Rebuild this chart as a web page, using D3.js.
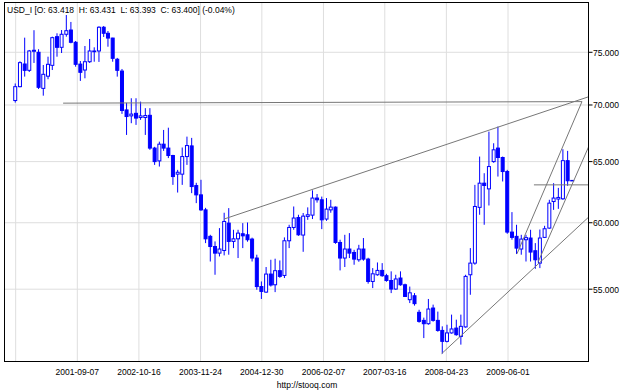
<!DOCTYPE html>
<html>
<head>
<meta charset="utf-8">
<script src="https://cdn.jsdelivr.net/npm/d3@7"></script>
<style>
body { margin: 0; background: #fff; }
text { font-family: "Liberation Sans", Arial, sans-serif; font-size: 8.5px; fill: #000; }
</style>
</head>
<body>
<div id="chart"></div>
<script>
// monthly candles, Jul 2000 .. Jul 2010
var openVals = [70.41, 71.70, 73.86, 73.25, 75.10, 75.00, 71.54, 72.69, 73.73, 76.55,
    75.49, 76.79, 77.22, 75.99, 73.85, 73.28, 74.08, 75.06, 75.13, 77.50,
    76.89, 76.41, 74.32, 73.18, 69.55, 69.01, 69.24, 68.86, 68.86, 69.06,
    66.16, 65.06, 66.50, 66.16, 65.52, 63.94, 63.94, 65.43, 66.35, 62.99,
    62.23, 61.02, 58.94, 58.16, 57.66, 57.86, 59.97, 58.55, 58.75, 59.14,
    59.06, 58.73, 57.29, 55.19, 54.79, 56.10, 55.32, 56.35, 56.00, 58.60,
    59.63, 60.41, 59.04, 60.50, 60.60, 61.97, 61.83, 60.29, 61.02, 61.24,
    58.47, 57.29, 57.97, 57.71, 57.16, 57.97, 57.21, 55.56, 56.05, 56.37,
    55.98, 55.63, 55.01, 55.81, 55.32, 54.25, 54.53, 53.36, 52.80, 52.57,
    53.66, 52.80, 52.11, 51.37, 51.94, 52.27, 51.70, 52.35, 56.05, 56.91,
    61.22, 63.19, 62.72, 65.00, 66.16, 65.35, 64.16, 59.27, 58.94, 57.97,
    58.68, 58.81, 57.84, 56.91, 58.86, 59.58, 61.69, 61.89, 61.91, 65.08,
    63.418];
var highVals = [72.00, 74.12, 76.45, 75.23, 77.20, 75.30, 73.76, 74.57, 76.55, 76.89,
    77.22, 78.75, 78.04, 76.12, 74.15, 75.62, 76.32, 75.49, 77.60, 77.63,
    77.12, 76.44, 74.45, 73.38, 70.20, 70.62, 70.62, 70.31, 69.71, 69.71,
    66.27, 66.72, 67.75, 67.95, 65.58, 64.30, 66.21, 67.16, 67.05, 63.22,
    63.47, 61.18, 59.06, 58.55, 59.58, 60.79, 61.16, 59.45, 59.45, 59.97,
    60.02, 58.84, 57.54, 55.56, 56.62, 57.16, 57.24, 57.11, 58.86, 59.84,
    61.29, 60.63, 60.77, 61.22, 62.60, 62.30, 62.09, 61.97, 61.83, 61.29,
    58.68, 59.06, 59.19, 57.91, 58.29, 58.81, 57.31, 56.54, 56.96, 56.91,
    56.12, 56.30, 56.05, 56.30, 55.40, 55.19, 54.72, 53.54, 52.99, 54.30,
    53.90, 53.41, 52.39, 52.50, 53.20, 52.85, 53.20, 56.05, 58.04, 63.05,
    65.43, 64.02, 67.60, 66.58, 68.05, 65.43, 64.30, 60.84, 59.84, 59.06,
    59.06, 59.45, 58.42, 59.47, 59.76, 61.83, 63.19, 62.80, 66.06, 65.92,
    63.431];
var lowVals = [70.22, 71.64, 72.65, 73.09, 73.96, 71.48, 70.86, 72.40, 73.28, 74.57,
    74.93, 76.55, 75.89, 73.60, 72.24, 72.49, 73.96, 74.08, 74.06, 76.52,
    75.55, 74.08, 72.65, 69.19, 67.31, 68.35, 68.20, 68.65, 67.31, 66.01,
    64.72, 64.58, 65.92, 65.30, 63.05, 62.42, 63.05, 64.72, 62.37, 61.56,
    60.94, 58.42, 57.03, 56.05, 57.41, 57.49, 57.54, 58.04, 57.29, 58.04,
    58.53, 57.03, 54.96, 54.30, 54.74, 55.19, 54.79, 55.83, 55.81, 58.04,
    59.45, 58.98, 57.76, 60.23, 60.29, 61.60, 59.50, 60.15, 60.79, 58.37,
    56.37, 56.62, 57.29, 56.79, 57.01, 57.09, 55.40, 55.08, 55.98, 55.90,
    55.54, 54.72, 54.96, 55.25, 54.44, 54.01, 53.83, 52.64, 51.59, 52.50,
    52.71, 52.02, 50.55, 51.30, 51.89, 51.75, 51.15, 52.30, 54.60, 56.79,
    60.63, 59.84, 61.37, 64.90, 63.74, 63.33, 59.14, 58.68, 57.59, 57.54,
    57.03, 57.03, 56.49, 56.54, 58.81, 59.53, 61.02, 61.10, 61.83, 62.97,
    63.393];
var closeVals = [71.70, 73.99, 73.25, 75.13, 75.20, 71.64, 72.87, 73.83, 76.45, 75.49,
    76.79, 77.15, 75.99, 73.83, 73.06, 74.08, 75.13, 75.13, 77.50, 76.89,
    76.41, 74.41, 73.25, 69.50, 68.95, 69.17, 68.81, 69.01, 69.04, 66.16,
    65.00, 66.50, 66.16, 65.52, 63.74, 64.10, 65.43, 66.38, 62.91, 62.23,
    61.02, 58.75, 58.16, 57.66, 57.97, 60.10, 58.55, 58.75, 59.19, 58.98,
    58.68, 57.29, 55.19, 54.84, 56.10, 55.30, 56.35, 55.93, 58.60, 59.63,
    60.37, 59.06, 60.52, 60.63, 61.97, 61.83, 60.23, 61.08, 61.24, 58.47,
    57.29, 57.97, 57.66, 57.21, 57.97, 57.21, 55.56, 56.12, 56.37, 55.98,
    55.63, 55.01, 55.74, 55.32, 54.48, 54.74, 53.97, 52.73, 52.57, 53.59,
    52.80, 52.11, 51.37, 51.94, 52.21, 51.82, 52.39, 55.93, 56.91, 61.29,
    63.19, 63.00, 64.58, 66.01, 65.35, 64.16, 59.27, 58.86, 58.04, 58.73,
    58.84, 57.74, 57.16, 58.81, 59.53, 61.56, 61.97, 62.02, 65.08, 63.39,
    63.400];

var gridDates = ["2000-07-30", "2001-09-07", "2002-10-16", "2003-11-24", "2004-12-30",
    "2006-02-07", "2007-03-16", "2008-04-23", "2009-06-01"];
var yTicks = [55, 60, 65, 70, 75];

// drawn trend lines: [start date, start value, end date, end value]
var trendLines = [
    ["2001-06-06", 70.17, "2010-09-29", 70.31],
    ["2004-04-26", 60.29, "2010-11-14", 70.77],
    ["2008-03-23", 50.55, "2010-11-14", 60.47],
    ["2009-07-30", 57.61, "2010-09-29", 70.31],
    ["2009-12-17", 57.03, "2010-11-14", 66.35],
    ["2009-11-18", 63.05, "2010-11-14", 63.05]
];

var titleText = "USD_I [O: 63.418  H: 63.431  L: 63.393  C: 63.400] (-0.04%)";

var width = 625, height = 391;
var plot = { left: 4.5, right: 588.5, top: 2.5, bottom: 361.5 };
var parse = d3.utcParse("%Y-%m-%d");

var months = d3.utcMonth.range(Date.UTC(2000, 6, 1), Date.UTC(2010, 7, 1));
var candles = months.map(function (m, i) {
    return { date: d3.utcDay.offset(m, 26), o: openVals[i], h: highVals[i], l: lowVals[i], c: closeVals[i] };
});

var x = d3.scaleUtc()
    .domain([parse("2001-09-07"), parse("2009-06-01")])
    .range([77.3, 508]);

var y = d3.scaleLog()
    .domain([50, 80])
    .range([362, 3]);

var svg = d3.select("#chart").append("svg")
    .attr("width", width)
    .attr("height", height);

svg.append("defs").append("clipPath").attr("id", "clip")
    .append("rect")
    .attr("x", plot.left).attr("y", plot.top)
    .attr("width", plot.right - plot.left).attr("height", plot.bottom - plot.top);

// grid
svg.append("g").selectAll("line")
    .data(gridDates)
    .enter().append("line")
    .attr("x1", function (d) { return x(parse(d)); })
    .attr("x2", function (d) { return x(parse(d)); })
    .attr("y1", plot.top)
    .attr("y2", plot.bottom)
    .attr("stroke", "#dedede");

svg.append("g").selectAll("line")
    .data(yTicks)
    .enter().append("line")
    .attr("x1", plot.left)
    .attr("x2", plot.right)
    .attr("y1", function (d) { return y(d); })
    .attr("y2", function (d) { return y(d); })
    .attr("stroke", "#dedede");

// candles
var g = svg.append("g").attr("clip-path", "url(#clip)");

g.selectAll(".wick")
    .data(candles)
    .enter().append("line")
    .attr("class", "wick")
    .attr("x1", function (d) { return x(d.date); })
    .attr("x2", function (d) { return x(d.date); })
    .attr("y1", function (d) { return y(d.h); })
    .attr("y2", function (d) { return y(d.l); })
    .attr("stroke", "#0000ff");

g.selectAll(".body")
    .data(candles)
    .enter().append("rect")
    .attr("class", "body")
    .attr("x", function (d) { return x(d.date) - 1.5; })
    .attr("width", 3)
    .attr("y", function (d) { return y(Math.max(d.o, d.c)); })
    .attr("height", function (d) { return Math.max(0.5, Math.abs(y(d.o) - y(d.c))); })
    .attr("fill", function (d) { return d.c >= d.o ? "#fff" : "#0000ff"; })
    .attr("stroke", "#0000ff");

// trend lines
g.selectAll(".trend")
    .data(trendLines)
    .enter().append("line")
    .attr("class", "trend")
    .attr("x1", function (d) { return x(parse(d[0])); })
    .attr("y1", function (d) { return y(d[1]); })
    .attr("x2", function (d) { return x(parse(d[2])); })
    .attr("y2", function (d) { return y(d[3]); })
    .attr("stroke", "#777");

// frame
svg.append("rect")
    .attr("x", plot.left).attr("y", plot.top)
    .attr("width", plot.right - plot.left).attr("height", plot.bottom - plot.top)
    .attr("fill", "none")
    .attr("stroke", "#000");

// y axis on the right
var yAxis = svg.append("g");
yAxis.selectAll("line")
    .data(yTicks)
    .enter().append("line")
    .attr("x1", plot.right).attr("x2", plot.right + 4)
    .attr("y1", function (d) { return y(d); })
    .attr("y2", function (d) { return y(d); })
    .attr("stroke", "#000");
yAxis.selectAll("text")
    .data(yTicks)
    .enter().append("text")
    .attr("x", 593)
    .attr("y", function (d) { return y(d) + 3.5; })
    .text(d3.format(".3f"));

// x labels (first one would run off the left edge)
svg.append("g").selectAll("text")
    .data(gridDates.slice(1))
    .enter().append("text")
    .attr("x", function (d) { return x(parse(d)); })
    .attr("y", 375)
    .attr("text-anchor", "middle")
    .text(function (d) { return d; });

svg.append("text")
    .attr("x", 7).attr("y", 13)
    .attr("xml:space", "preserve")
    .style("white-space", "pre")
    .text(titleText);

svg.append("text")
    .attr("x", 307).attr("y", 388)
    .attr("text-anchor", "middle")
    .text("http://stooq.com");
</script>
</body>
</html>
